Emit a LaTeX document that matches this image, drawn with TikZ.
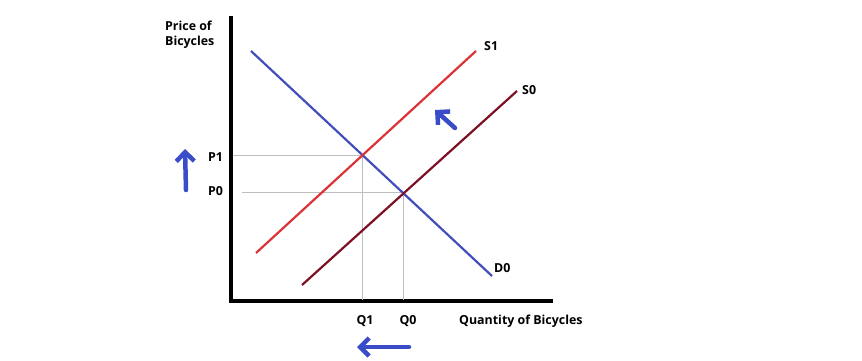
\documentclass[tikz,border=0pt]{standalone}
\usepackage{fontspec}
\setmainfont{Open Sans}
\usetikzlibrary{arrows.meta}
\definecolor{dblue}{RGB}{66,78,186}
\definecolor{sred}{RGB}{220,50,56}
\definecolor{sdark}{RGB}{125,16,36}
\definecolor{hblue}{RGB}{58,76,200}
\definecolor{gline}{RGB}{190,190,190}
\tikzset{
  lbl/.style={font=\fontsize{12.4}{14.5}\selectfont\bfseries, inner sep=0pt},
  axis/.style={line width=3.8pt, black},
  curve/.style={line width=2.2pt},
  guide/.style={line width=0.7pt, gline},
  hand/.style={line width=4.5pt, hblue, line cap=round, -{Straight Barb[length=9pt,width=18pt,line width=4.5pt]}},
}
\begin{document}
\begin{tikzpicture}[x=1pt,y=-1pt]
\useasboundingbox (0,0) rectangle (862,360);
% axes
\coordinate (ytop) at (231,16);
\coordinate (orig) at (231,301);
\coordinate (xend) at (553,301);
\draw[axis] (ytop) -- (orig) -- (xend);
% equilibrium points
\coordinate (E1) at (362,155);
\coordinate (E0) at (403,192);
\coordinate (p1s) at (233,155);
\coordinate (p0s) at (242,192);
\coordinate (q1s) at (362,300);
\coordinate (q0s) at (403,300);
\draw[guide] (p1s) -- (E1) -- (q1s);
\draw[guide] (p0s) -- (E0) -- (q0s);
% curves
\coordinate (d0a) at (251,51);
\coordinate (d0b) at (492,276);
\coordinate (s1a) at (256,253);
\coordinate (s1b) at (476,51);
\coordinate (s0a) at (302,285);
\coordinate (s0b) at (517,91);
\draw[curve, dblue] (d0a) -- (d0b);
\draw[curve, sred] (s1a) -- (s1b);
\draw[curve, sdark] (s0a) -- (s0b);
% labels
\node[lbl, align=left, anchor=north west] (ylab) at (165,21) {Price of\\Bicycles};
\node[lbl, anchor=west] (P1) at (208,157) {P1};
\node[lbl, anchor=west] (P0) at (208,191) {P0};
\node[lbl] (Q1) at (365,321) {Q1};
\node[lbl] (Q0) at (408,321) {Q0};
\node[lbl, anchor=west] (xlab) at (459,321) {Quantity of Bicycles};
\node[lbl, anchor=west] (S1) at (484,46) {S1};
\node[lbl, anchor=west] (S0) at (522,90) {S0};
\node[lbl, anchor=west] (D0) at (494,268) {D0};
% hand drawn arrows
\coordinate (ua) at (186,190);
\coordinate (ub) at (185,149);
\draw[hand] (ua) -- (ub);
\coordinate (la) at (409,347);
\coordinate (lb) at (357,347);
\draw[hand] (la) -- (lb);
\coordinate (da) at (455,128);
\coordinate (db) at (435,110);
\draw[hand] (da) -- (db);
\end{tikzpicture}
\end{document}
